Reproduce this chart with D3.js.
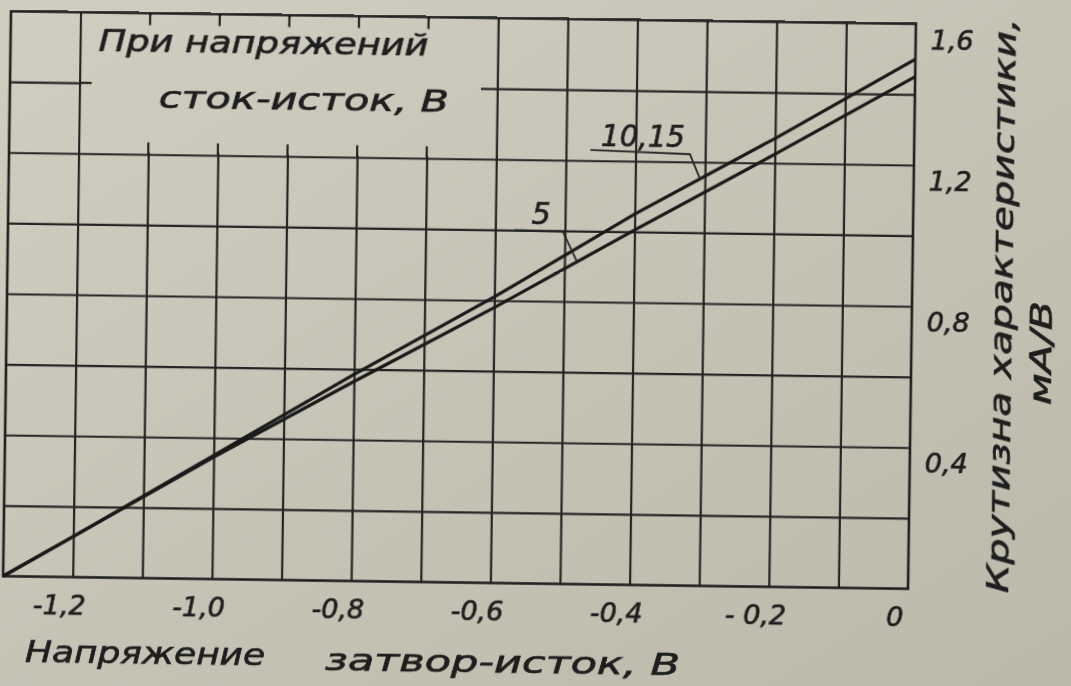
<!DOCTYPE html>
<html>
<head>
<meta charset="utf-8">
<script src="https://cdn.jsdelivr.net/npm/d3@7"></script>
<style>
  html, body { margin: 0; padding: 0; background: #c9c6b8; }
  svg { display: block; }
  text { font-family: "DejaVu Sans", sans-serif; font-style: italic; fill: #1e1e1e; stroke: #1e1e1e; stroke-width: 0.7; }
</style>
</head>
<body>
<div id="chart"></div>
<script>
// data
const vgs = [-1.3, -1.2, -1.0, -0.8, -0.6, -0.4, -0.2, 0];
const s10_15 = [0, 0.115, 0.35, 0.585, 0.81, 1.05, 1.27, 1.5];
const s5 = [0, 0.115, 0.345, 0.565, 0.78, 1.005, 1.225, 1.45];

const xGrid = [-1.2, -1.1, -1.0, -0.9, -0.8, -0.7, -0.6, -0.5, -0.4, -0.3, -0.2, -0.1];
const yGrid = [0.2, 0.4, 0.6, 0.8, 1.0, 1.2, 1.4];
const xTicks = [-1.2, -1.0, -0.8, -0.6, -0.4, -0.2, 0];
const xTickLabels = ["-1,2", "-1,0", "-0,8", "-0,6", "-0,4", "- 0,2", "0"];
const yTicks = [0.4, 0.8, 1.2, 1.6];
const yTickLabels = ["0,4", "0,8", "1,2", "1,6"];

let w = 1071;
let h = 686;

let svg = d3.select("#chart")
  .append("svg")
    .attr("width", w)
    .attr("height", h);

let defs = svg.append("defs");

// paper
let grad = defs.append("linearGradient")
    .attr("id", "paper")
    .attr("x1", "0").attr("y1", "0").attr("x2", "1").attr("y2", "1");
grad.append("stop").attr("offset", "0").attr("stop-color", "#d1cec1");
grad.append("stop").attr("offset", "1").attr("stop-color", "#bcb9ab");
svg.append("rect").attr("width", w).attr("height", h).attr("fill", "url(#paper)");

// the photo is a little bit turned
let viz = svg.append("g").attr("transform", "rotate(0.8, 459.5, 300)");

let x = d3.scaleLinear().domain([-1.3, 0]).range([7, 912]);
let y = d3.scaleLinear().domain([0, 1.6]).range([582.5, 17.5]);

let plotW = x(0) - x(-1.3);
let plotH = y(0) - y(1.6);

// blank box for the note, only stubs of the grid are left
let boxL = x(-1.2) + 2, boxR = 478, boxT = y(1.6) + 2, boxB = y(1.2) - 2;
let mask = defs.append("mask").attr("id", "noteMask").attr("maskUnits", "userSpaceOnUse")
    .attr("x", 0).attr("y", 0).attr("width", w).attr("height", h);
mask.append("rect").attr("x", -50).attr("y", -50).attr("width", w + 100).attr("height", h + 100).attr("fill", "white");
mask.append("rect")
    .attr("x", boxL).attr("y", boxT)
    .attr("width", boxR - boxL).attr("height", boxB - boxT)
    .attr("fill", "black");

//grid
let grid = viz.append("g").attr("mask", "url(#noteMask)");

grid.append("g")
    .attr("class", "gridx")
    .attr("transform", "translate(0," + y(0) + ")")
    .call(d3.axisBottom(x).tickValues(xGrid).tickSize(-plotH).tickFormat(""))
    .call(g => g.select(".domain").remove());

grid.append("g")
    .attr("class", "gridy")
    .attr("transform", "translate(" + x(-1.3) + ",0)")
    .call(d3.axisLeft(y).tickValues(yGrid).tickSize(-plotW).tickFormat(""))
    .call(g => g.select(".domain").remove());

viz.selectAll(".gridx line, .gridy line")
    .attr("stroke", "#242424")
    .attr("stroke-width", 2.2);

let stubs = xGrid.filter(v => x(v) > boxL && x(v) < boxR);
viz.selectAll(".stubTop").data(stubs).enter().append("line")
    .attr("x1", d => x(d)).attr("x2", d => x(d))
    .attr("y1", y(1.6)).attr("y2", y(1.6) + 12)
    .attr("stroke", "#242424").attr("stroke-width", 2.2);
viz.selectAll(".stubBot").data(stubs).enter().append("line")
    .attr("x1", d => x(d)).attr("x2", d => x(d))
    .attr("y1", y(1.2) - 12).attr("y2", y(1.2))
    .attr("stroke", "#242424").attr("stroke-width", 2.2);
viz.append("line")
    .attr("x1", x(-1.2)).attr("x2", x(-1.2) + 12)
    .attr("y1", y(1.4)).attr("y2", y(1.4))
    .attr("stroke", "#242424").attr("stroke-width", 2.2);

// frame
viz.append("rect")
    .attr("x", x(-1.3)).attr("y", y(1.6))
    .attr("width", plotW).attr("height", plotH)
    .attr("fill", "none")
    .attr("stroke", "#202020")
    .attr("stroke-width", 2.6);

// curves
let line = d3.line()
    .x((d, i) => x(vgs[i]))
    .y(d => y(d));

viz.append("path").datum(s10_15)
    .attr("d", line)
    .attr("fill", "none").attr("stroke", "#1a1a1a").attr("stroke-width", 3.2);
viz.append("path").datum(s5)
    .attr("d", line)
    .attr("fill", "none").attr("stroke", "#1a1a1a").attr("stroke-width", 3.2);

function valueAt(series, v) {
  for (let i = 0; i < vgs.length - 1; i++) {
    if (v >= vgs[i] && v <= vgs[i + 1]) {
      let t = (v - vgs[i]) / (vgs[i + 1] - vgs[i]);
      return series[i] + t * (series[i + 1] - series[i]);
    }
  }
  return series[series.length - 1];
}

// leaders with the labels
let lead10 = [[-0.465, 1.23], [-0.322, 1.222], [-0.307, valueAt(s10_15, -0.307)]];
let lead5 = [[-0.572, 1.0], [-0.503, 0.998], [-0.482, valueAt(s5, -0.482)]];

let leadLine = d3.line().x(d => x(d[0])).y(d => y(d[1]));
viz.append("path").datum(lead10).attr("d", leadLine)
    .attr("fill", "none").attr("stroke", "#262626").attr("stroke-width", 1.8);
viz.append("path").datum(lead5).attr("d", leadLine)
    .attr("fill", "none").attr("stroke", "#262626").attr("stroke-width", 1.8);

viz.append("text")
    .attr("x", x(-0.45)).attr("y", y(1.23) - 4)
    .attr("font-size", 30)
    .attr("textLength", 84).attr("lengthAdjust", "spacingAndGlyphs")
    .text("10,15");
viz.append("text")
    .attr("x", x(-0.548)).attr("y", y(1.0) - 6)
    .attr("font-size", 30)
    .text("5");

// tick labels
viz.selectAll(".xlab").data(xTicks).enter().append("text")
    .attr("x", d => x(d) - 13)
    .attr("y", 620)
    .attr("text-anchor", "middle")
    .attr("font-size", 27)
    .text((d, i) => xTickLabels[i]);

viz.selectAll(".ylab").data(yTicks).enter().append("text")
    .attr("x", 927)
    .attr("y", d => y(d) + 25)
    .attr("font-size", 27)
    .text((d, i) => yTickLabels[i]);

// note
viz.append("text")
    .attr("x", 95).attr("y", 56)
    .attr("font-size", 30)
    .attr("textLength", 330).attr("lengthAdjust", "spacingAndGlyphs")
    .text("При напряжений");
viz.append("text")
    .attr("x", 156).attr("y", 112)
    .attr("font-size", 30)
    .attr("textLength", 290).attr("lengthAdjust", "spacingAndGlyphs")
    .text("сток-исток, В");

// axis titles
viz.append("text")
    .attr("x", 30).attr("y", 668)
    .attr("font-size", 30)
    .attr("textLength", 240).attr("lengthAdjust", "spacingAndGlyphs")
    .text("Напряжение");
viz.append("text")
    .attr("x", 330).attr("y", 672)
    .attr("font-size", 30)
    .attr("textLength", 355).attr("lengthAdjust", "spacingAndGlyphs")
    .text("затвор-исток, В");

viz.append("text")
    .attr("transform", "translate(1012, 298) rotate(-90)")
    .attr("text-anchor", "middle")
    .attr("font-size", 31)
    .attr("textLength", 575).attr("lengthAdjust", "spacingAndGlyphs")
    .text("Крутизна характеристики,");
viz.append("text")
    .attr("transform", "translate(1052, 345) rotate(-90)")
    .attr("text-anchor", "middle")
    .attr("font-size", 30)
    .attr("textLength", 104).attr("lengthAdjust", "spacingAndGlyphs")
    .text("мА/В");
</script>
</body>
</html>
